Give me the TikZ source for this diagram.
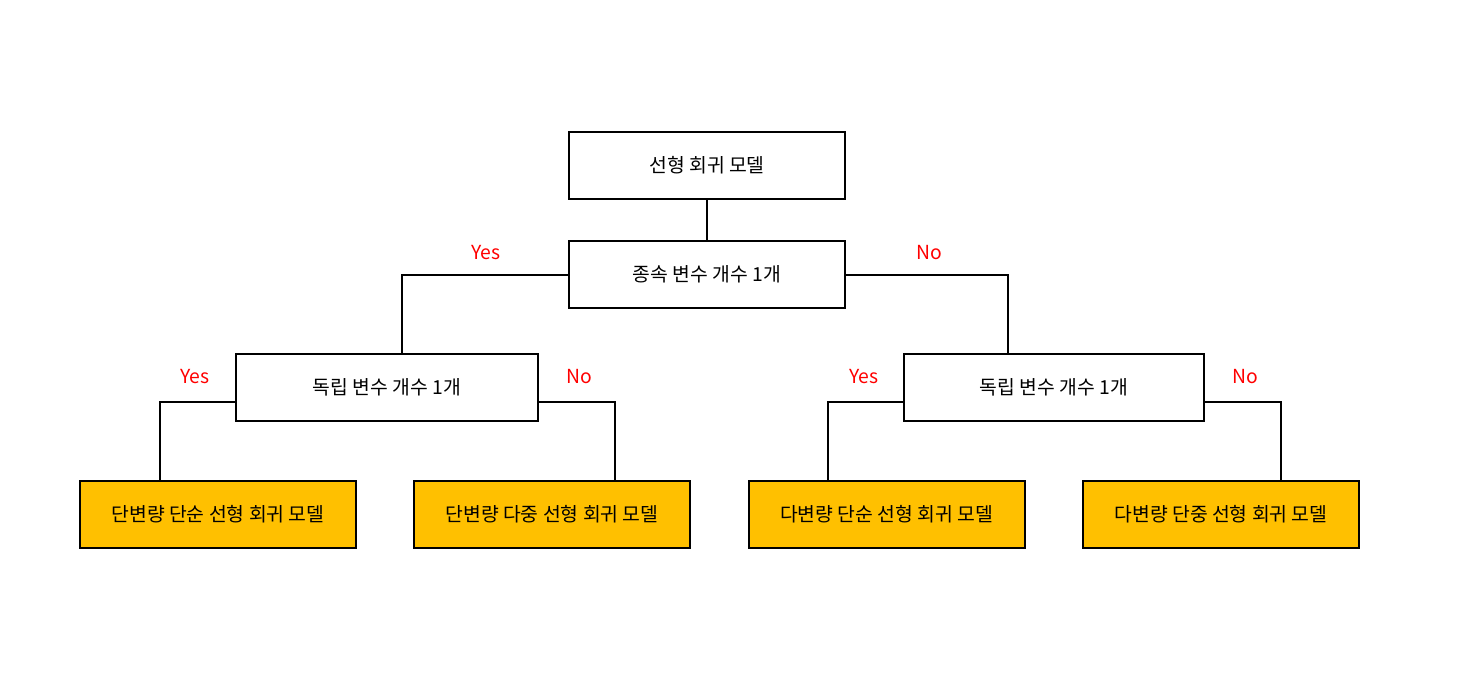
\documentclass[tikz,border=0pt]{standalone}
\usepackage{fontspec}
\setmainfont{Noto Sans CJK KR}
\usetikzlibrary{calc}
\definecolor{gold}{HTML}{FFC000}
\definecolor{lblred}{HTML}{FF0000}
\tikzset{
  box/.style={draw, line width=1.5pt, minimum width=276*0.75pt, minimum height=67*0.75pt, inner sep=0pt, font=\fontsize{14.5}{16}\selectfont},
  leaf/.style={box, fill=gold},
  link/.style={line width=1.5pt},
  lbl/.style={text=lblred, font=\fontsize{14.5}{16}\selectfont}
}
\begin{document}
\begin{tikzpicture}[x=0.75pt,y=-0.75pt]
\useasboundingbox (0,0) rectangle (1474,676);
\node[box] (root) at (707,165) {선형 회귀 모델};
\node[box] (dep) at (707,274.5) {종속 변수 개수 1개};
\node[box, minimum width=302*0.75pt] (indL) at (387,387.5) {독립 변수 개수 1개};
\node[box, minimum width=300*0.75pt] (indR) at (1054,387.5) {독립 변수 개수 1개};
\node[leaf] (l1) at (218,514) {단변량 단순 선형 회귀 모델};
\node[leaf] (l2) at (552,514) {단변량 다중 선형 회귀 모델};
\node[leaf] (l3) at (886.5,514) {다변량 단순 선형 회귀 모델};
\node[leaf] (l4) at (1221,514) {다변량 단중 선형 회귀 모델};
\draw[link] (root) -- (dep);
\draw[link] (dep.west) -| (indL.north -| 402,0);
\draw[link] (dep.east) -| (indR.north -| 1008,0);
\draw[link] (indL.west |- 0,402) -| (l1.north -| 160,0);
\draw[link] (indL.east |- 0,402) -| (l2.north -| 615,0);
\draw[link] (indR.west |- 0,402) -| (l3.north -| 828,0);
\draw[link] (indR.east |- 0,402) -| (l4.north -| 1281,0);
\node[lbl] (y1) at (486,253) {Yes};
\node[lbl] (n1) at (929,253) {No};
\node[lbl] (y2) at (195,377) {Yes};
\node[lbl] (n2) at (579,377) {No};
\node[lbl] (y3) at (864,377) {Yes};
\node[lbl] (n3) at (1245,377) {No};
\end{tikzpicture}
\end{document}
